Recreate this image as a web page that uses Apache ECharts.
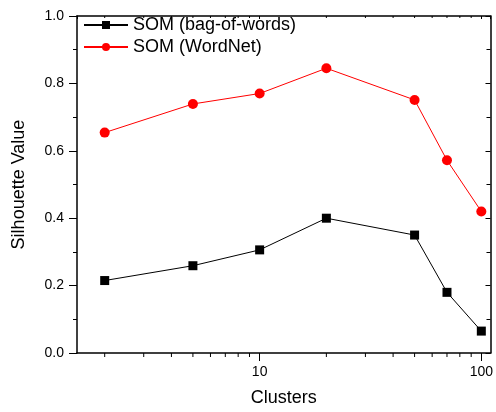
<!DOCTYPE html>
<html><head><meta charset="utf-8">
<script src="https://cdn.jsdelivr.net/npm/echarts@6/dist/echarts.min.js"></script>
<style>html,body{margin:0;padding:0;background:#fff}#c{width:496px;height:412px}</style>
</head><body><div id="c"></div>
<script>
const clusters = [2, 5, 10, 20, 50, 70, 100];
const bagOfWords = [0.215, 0.259, 0.306, 0.400, 0.350, 0.180, 0.065];
const wordNet = [0.654, 0.739, 0.770, 0.845, 0.751, 0.572, 0.420];
const xTickLabels = [10, 100];
const xMinorTicks = [2, 3, 4, 5, 6, 7, 8, 9, 20, 30, 40, 50, 60, 70, 80, 90];
const seriesNames = ['SOM (bag-of-words)', 'SOM (WordNet)'];

const FONT = "'Liberation Sans', Arial, sans-serif";
const chart = echarts.init(document.getElementById('c'));
const pair = (xs, ys) => xs.map((x, i) => [x, ys[i]]);

chart.setOption({
  animation: false,
  backgroundColor: '#fff',
  grid: {left: 77, right: 5, top: 16, bottom: 57, show: false},
  legend: {
    left: 78, top: 11, orient: 'vertical', itemGap: 4,
    itemWidth: 44, itemHeight: 10,
    textStyle: {fontFamily: FONT, fontSize: 18, color: '#000'},
    data: seriesNames
  },
  xAxis: [{
    type: 'log', logBase: 10, min: 1.5, max: 110,
    name: 'Clusters', nameLocation: 'middle', nameGap: 36,
    nameTextStyle: {fontFamily: FONT, fontSize: 18, color: '#000'},
    axisLine: {onZero: false, lineStyle: {color: '#000', width: 1.5}},
    axisTick: {show: true, inside: false, length: 8, lineStyle: {color: '#000', width: 1}},
    axisLabel: {fontFamily: FONT, fontSize: 14, color: '#000', margin: 12,
      showMinLabel: false, showMaxLabel: false,
      formatter: v => xTickLabels.includes(Math.round(v)) ? String(Math.round(v)) : ''},
    splitLine: {show: false}
  }, {
    type: 'log', logBase: 10, min: 1.5, max: 110, position: 'top',
    axisLine: {onZero: false, lineStyle: {color: '#000', width: 1.5}},
    axisTick: {show: true, inside: true, length: 3, lineStyle: {color: '#000'}},
    axisLabel: {show: false}, splitLine: {show: false}
  }],
  yAxis: [{
    type: 'value', min: 0, max: 1, interval: 0.2,
    name: 'Silhouette Value', nameLocation: 'middle', nameGap: 49,
    nameTextStyle: {fontFamily: FONT, fontSize: 18, color: '#000'},
    axisLine: {show: true, onZero: false, lineStyle: {color: '#000', width: 1.5}},
    axisTick: {show: true, inside: false, length: 8, lineStyle: {color: '#000'}},
    minorTick: {show: true, splitNumber: 2, length: 4, lineStyle: {color: '#000'}},
    axisLabel: {fontFamily: FONT, fontSize: 14, color: '#000', margin: 13,
      formatter: v => v.toFixed(1)},
    splitLine: {show: false}
  }, {
    type: 'value', min: 0, max: 1, interval: 0.2, position: 'right',
    axisLine: {show: true, onZero: false, lineStyle: {color: '#000', width: 1.5}},
    axisTick: {show: true, inside: true, length: 5, lineStyle: {color: '#000'}},
    minorTick: {show: true, splitNumber: 2, length: 4, lineStyle: {color: '#000'}},
    axisLabel: {show: false}, splitLine: {show: false}
  }],
  series: [{
    name: seriesNames[0], type: 'line', data: pair(clusters, bagOfWords),
    symbol: 'rect', symbolSize: 9,
    itemStyle: {color: '#000'}, lineStyle: {color: '#000', width: 1}
  }, {
    name: seriesNames[1], type: 'line', data: pair(clusters, wordNet),
    symbol: 'circle', symbolSize: 10,
    itemStyle: {color: '#ff0000'}, lineStyle: {color: '#ff0000', width: 1}
  }, {
    type: 'custom', clip: false, silent: true,
    data: xMinorTicks.map(v => [v]),
    renderItem: (params, api) => {
      const b = api.coord([api.value(0), 0]);
      const t = api.coord([api.value(0), 1]);
      const st = {stroke: '#000', lineWidth: 1};
      return {type: 'group', children: [
        {type: 'line', shape: {x1: b[0], y1: b[1], x2: b[0], y2: b[1] + 4}, style: st},
        {type: 'line', shape: {x1: t[0], y1: t[1], x2: t[0], y2: t[1] + 2}, style: st}
      ]};
    }
  }]
});
</script></body></html>
